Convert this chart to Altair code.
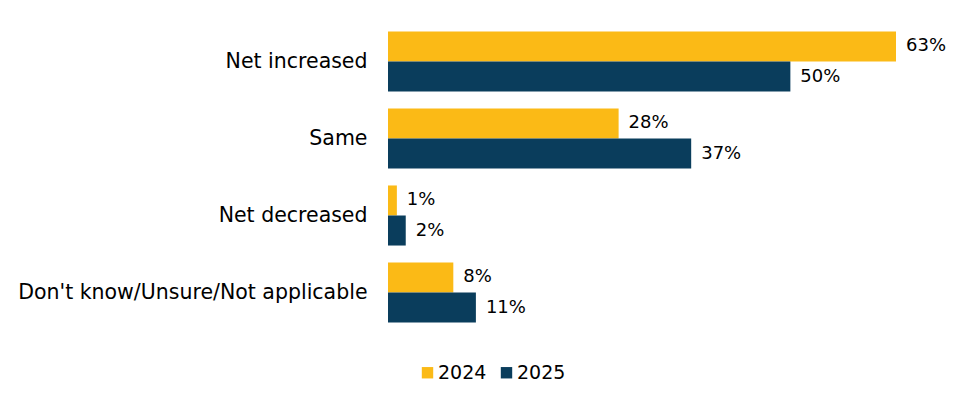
import altair as alt
import pandas as pd

categories = ["Net increased", "Same", "Net decreased", "Don't know/Unsure/Not applicable"]
years = ["2024", "2025"]
values_2024 = [63.0, 28.6, 1.1, 8.1]
values_2025 = [49.9, 37.6, 2.2, 10.9]
labels_2024 = ["63%", "28%", "1%", "8%"]
labels_2025 = ["50%", "37%", "2%", "11%"]

rows = []
for c, v, l in zip(categories, values_2024, labels_2024):
    rows.append({"cat": c, "year": "2024", "val": v, "lbl": l})
for c, v, l in zip(categories, values_2025, labels_2025):
    rows.append({"cat": c, "year": "2025", "val": v, "lbl": l})
df = pd.DataFrame(rows)

FONT = "DejaVu Sans"
color = alt.Color("year:N", scale=alt.Scale(domain=years, range=["#FBBA16", "#0A3D5C"]),
                  legend=alt.Legend(title=None, orient="none", direction="horizontal",
                                    legendX=30, legendY=340, labelFontSize=19, labelFont=FONT,
                                    labelColor="#000000", symbolType="square", symbolSize=130,
                                    columnPadding=10, labelOffset=1))

y = alt.Y("cat:N", sort=categories, title=None,
          scale=alt.Scale(paddingInner=0.22, paddingOuter=0.11),
          axis=alt.Axis(domain=False, ticks=False, labelFontSize=20.5, labelFont=FONT,
                        labelColor="#000000", labelPadding=21, labelLimit=400))
x = alt.X("val:Q", title=None, scale=alt.Scale(domain=[0, 63], nice=False),
          axis=None)
yoff = alt.YOffset("year:N", sort=years)

base = alt.Chart(df).encode(y=y, x=x, yOffset=yoff)
bars = base.mark_bar().encode(color=color)
labels = base.mark_text(align="left", baseline="middle", dx=10, fontSize=18, font=FONT,
                        color="#000000").encode(text="lbl:N")

chart = (bars + labels).properties(
    width=508, height=308,
    autosize=alt.AutoSizeParams(type="none"),
    padding={"left": 380, "top": 15, "right": 76, "bottom": 66},
).configure_view(stroke=None)

chart.save("out.html", embed_options={"renderer": "svg", "actions": False})
